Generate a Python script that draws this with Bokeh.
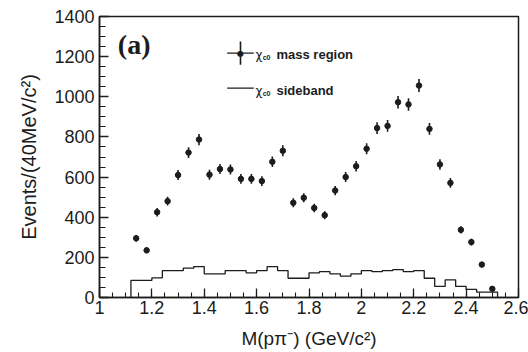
import numpy as np
from bokeh.plotting import figure
from bokeh.models import Range1d, FixedTicker, Label, Arrow, NumeralTickFormatter
from bokeh.embed import file_html
from bokeh.resources import INLINE

# ---- data ----
mass_x = [1.14, 1.18, 1.22, 1.26, 1.30, 1.34, 1.38, 1.42, 1.46, 1.50,
          1.54, 1.58, 1.62, 1.66, 1.70, 1.74, 1.78, 1.82, 1.86, 1.90,
          1.94, 1.98, 2.02, 2.06, 2.10, 2.14, 2.18, 2.22, 2.26, 2.30,
          2.34, 2.38, 2.42, 2.46, 2.50]
mass_counts = [295, 235, 425, 480, 610, 722, 787, 612, 640, 638,
               591, 591, 580, 676, 731, 472, 497, 446, 410, 533,
               600, 654, 741, 844, 855, 973, 962, 1056, 840, 663,
               571, 337, 276, 164, 43]
mass_err = [17, 15, 21, 22, 25, 27, 28, 25, 25, 25,
            24, 24, 24, 26, 27, 22, 22, 21, 20, 23,
            25, 26, 27, 29, 29, 31, 31, 32, 29, 26,
            24, 18, 17, 13, 7]

side_lo = [1.12, 1.16, 1.20, 1.24, 1.28, 1.32, 1.36, 1.40, 1.44, 1.48,
           1.52, 1.56, 1.60, 1.64, 1.68, 1.72, 1.76, 1.80, 1.84, 1.88,
           1.92, 1.96, 2.00, 2.04, 2.08, 2.12, 2.16, 2.20, 2.24, 2.28,
           2.32, 2.36, 2.40, 2.44, 2.48]
side_counts = [85, 85, 98, 134, 134, 146, 154, 118, 118, 134,
               134, 123, 134, 154, 134, 96, 96, 123, 129, 118,
               106, 118, 134, 129, 134, 139, 129, 134, 96, 55,
               88, 55, 40, 27, 27]
BIN_W = 0.04

x_ticks = [1.0, 1.2, 1.4, 1.6, 1.8, 2.0, 2.2, 2.4, 2.6]
y_ticks = [0, 200, 400, 600, 800, 1000, 1200, 1400]

INK = "#1c1c1c"
SANS = "Liberation Sans"

p = figure(width=528, height=352, x_range=Range1d(1.0, 2.6), y_range=Range1d(0, 1400),
           output_backend="svg", toolbar_location=None,
           min_border_left=99, min_border_right=10, min_border_top=16, min_border_bottom=55)
p.background_fill_color = "white"
p.border_fill_color = "white"
p.outline_line_color = INK
p.outline_line_width = 1.5
p.grid.visible = False

x_minor = [float(v) for v in np.round(np.arange(1.0, 2.6001, 0.05), 2)]
y_minor = [float(v) for v in np.arange(0, 1401, 50)]
p.xaxis.ticker = FixedTicker(ticks=x_ticks, minor_ticks=x_minor)
p.yaxis.ticker = FixedTicker(ticks=y_ticks, minor_ticks=y_minor)
p.xaxis.formatter = NumeralTickFormatter(format="0.[0]")

for ax in (p.xaxis[0], p.yaxis[0]):
    ax.major_tick_in = 9
    ax.major_tick_out = 0
    ax.minor_tick_out = 0
    ax.axis_line_color = INK
    ax.axis_line_width = 1.5
    ax.major_tick_line_color = INK
    ax.major_tick_line_width = 1.3
    ax.minor_tick_line_color = INK
    ax.minor_tick_line_width = 1.1
    ax.major_label_text_font = SANS
    ax.major_label_text_font_size = "18px"
    ax.major_label_text_color = INK
    ax.axis_label_text_font = SANS
    ax.axis_label_text_font_style = "normal"
    ax.axis_label_text_color = INK

p.xaxis.axis_label_text_font_size = "19px"
p.yaxis.axis_label_text_font_size = "20px"
p.xaxis.minor_tick_in = 5
p.yaxis.minor_tick_in = 6
p.xaxis.major_label_standoff = 3
p.yaxis.major_label_standoff = 5
p.xaxis.axis_label = "M(pπ⁻) (GeV/c²)"
p.yaxis.axis_label = "Events/(40MeV/c²)"
p.xaxis.axis_label_standoff = 11
p.yaxis.axis_label_standoff = 11

# ---- sideband histogram (step outline) ----
edges = side_lo + [side_lo[-1] + BIN_W]
step_x = [edges[0]] + edges + [edges[-1]]
step_y = [0] + side_counts + [side_counts[-1], 0]
p.step(step_x, step_y, mode="after", line_color=INK, line_width=1.3)

# ---- signal-region points with error bars ----
lo = [c - e for c, e in zip(mass_counts, mass_err)]
hi = [c + e for c, e in zip(mass_counts, mass_err)]
p.segment(x0=mass_x, y0=lo, x1=mass_x, y1=hi, line_color=INK, line_width=1.6)
p.scatter(mass_x, mass_counts, size=5.5, marker="circle", fill_color=INK, line_color=INK)

# ---- panel tag ----
p.add_layout(Label(x=1.070, y=1262, text="(a)", text_font="Liberation Serif",
                   text_font_style="bold", text_font_size="28px", text_color=INK,
                   text_baseline="middle"))

# ---- legend (drawn as annotations) ----
leg_x0, leg_x1, leg_xc = 1.4876, 1.589, 1.5384
leg_y1, leg_y2 = 1218, 1043
p.add_layout(Arrow(end=None, x_start=leg_x0, y_start=leg_y1, x_end=leg_x1, y_end=leg_y1,
                   line_color=INK, line_width=1.3))
p.add_layout(Arrow(end=None, x_start=leg_xc, y_start=leg_y1 - 58, x_end=leg_xc, y_end=leg_y1 + 58,
                   line_color=INK, line_width=1.6))
p.add_layout(Label(x=leg_xc, y=leg_y1, text="●", text_font="DejaVu Sans", text_font_size="8px",
                   text_align="center", text_baseline="middle", text_color=INK))
p.add_layout(Arrow(end=None, x_start=leg_x0, y_start=leg_y2, x_end=leg_x1, y_end=leg_y2,
                   line_color=INK, line_width=1.3))

for yb, word in ((1209, "mass region"), (1029, "sideband")):
    p.add_layout(Label(x=1.5957, y=yb, text="χ", text_font="DejaVu Sans",
                       text_font_size="12px", text_color=INK, text_baseline="alphabetic"))
    p.add_layout(Label(x=1.6232, y=yb - 12, text="c0", text_font=SANS, text_font_style="bold",
                       text_font_size="7px", text_color=INK, text_baseline="alphabetic"))
    p.add_layout(Label(x=1.6758, y=yb, text=word, text_font=SANS, text_font_style="bold",
                       text_font_size="13px", text_color=INK, text_baseline="alphabetic"))

open("out.html", "w").write(file_html(p, INLINE))
